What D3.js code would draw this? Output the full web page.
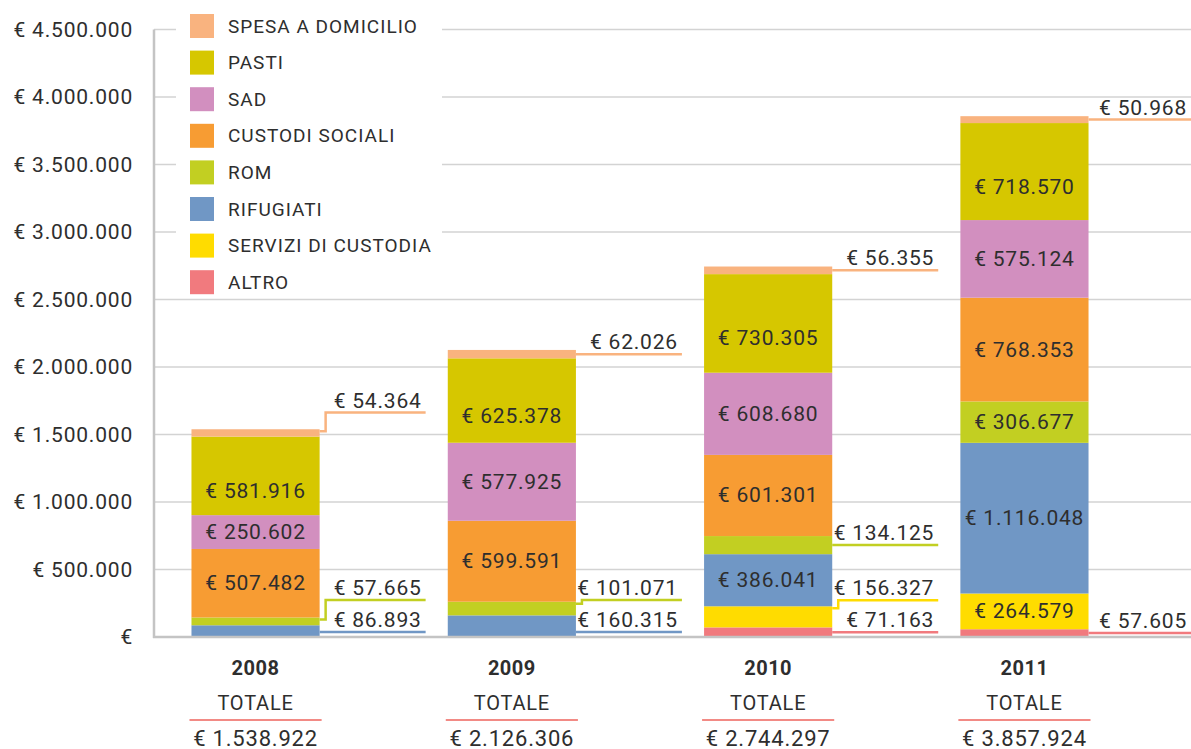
<!DOCTYPE html>
<html>
<head>
<meta charset="utf-8">
<script src="https://cdn.jsdelivr.net/npm/d3@7"></script>
<style>
html,body{margin:0;padding:0;background:#fff;}
svg{display:block;font-family:Roboto,"DejaVu Sans",sans-serif;}
</style>
</head>
<body>
<svg id="chart" width="1191" height="749"></svg>
<script>
// ---- data ----
const years = ["2008", "2009", "2010", "2011"];
const seriesKeys = ["altro", "servizi", "rifugiati", "rom", "custodi", "sad", "pasti", "spesa"];
const seriesLabels = ["ALTRO", "SERVIZI DI CUSTODIA", "RIFUGIATI", "ROM", "CUSTODI SOCIALI", "SAD", "PASTI", "SPESA A DOMICILIO"];
const seriesColors = ["#F17A7E", "#FFDC00", "#7097C5", "#C2CF22", "#F79C33", "#D28FBF", "#D6C700", "#F9B37F"];
const altro     = [0, 0, 71163, 57605];
const servizi   = [0, 0, 156327, 264579];
const rifugiati = [86893, 160315, 386041, 1116048];
const rom       = [57665, 101071, 134125, 306677];
const custodi   = [507482, 599591, 601301, 768353];
const sad       = [250602, 577925, 608680, 575124];
const pasti     = [581916, 625378, 730305, 718570];
const spesa     = [54364, 62026, 56355, 50968];
const totals    = [1538922, 2126306, 2744297, 3857924];
const yTicks    = [0, 500000, 1000000, 1500000, 2000000, 2500000, 3000000, 3500000, 4000000, 4500000];
const totalLabel = "TOTALE";

const seriesValues = {altro, servizi, rifugiati, rom, custodi, sad, pasti, spesa};
const table = years.map((yr, i) => {
  const row = {year: yr};
  seriesKeys.forEach(k => row[k] = seriesValues[k][i]);
  return row;
});

// ---- formatting ----
const itFmt = d3.formatLocale({decimal: ",", thousands: ".", grouping: [3], currency: ["€", ""]});
const fmtN = itFmt.format(",d");
const euro = v => "€ " + fmtN(v);
const tickFmt = v => v === 0 ? "€" : "€ " + fmtN(v);

// ---- layout ----
const svg = d3.select("#chart");
const axisX = 154, rightEdge = 1191;
const y = d3.scaleLinear().domain([0, 4500000]).range([637, 29.5]);
const x = d3.scaleBand().domain(years).range([127.4, 1152.6]).paddingInner(0.5).paddingOuter(0.25);
const color = d3.scaleOrdinal().domain(seriesKeys).range(seriesColors);
const textCol = "#2e2e2e";
const LS = "0.8px";

// gridlines
svg.append("g").selectAll("line").data(yTicks.filter(t => t > 0)).join("line")
  .attr("x1", axisX).attr("x2", rightEdge)
  .attr("y1", d => y(d)).attr("y2", d => y(d))
  .attr("stroke", "#d3d3d3").attr("stroke-width", 1.5);

// y axis via d3.axisLeft (labels only)
const yAxis = d3.axisLeft(y).tickValues(yTicks).tickFormat(tickFmt).tickSize(0).tickPadding(21);
const gy = svg.append("g").attr("transform", `translate(${axisX},0)`).call(yAxis);
gy.select(".domain").remove();
gy.selectAll("text").attr("fill", textCol).style("font-size", "21px")
  .style("letter-spacing", LS).style("font-family", "Roboto, sans-serif");

// stacked bars
const stack = d3.stack().keys(seriesKeys)(table);
const layers = svg.append("g").selectAll("g").data(stack).join("g").attr("fill", d => color(d.key));
layers.selectAll("rect").data(d => d.map(p => ({p, key: d.key}))).join("rect")
  .attr("x", d => x(d.p.data.year))
  .attr("width", x.bandwidth())
  .attr("y", d => y(d.p[1]))
  .attr("height", d => Math.max(0, y(d.p[0]) - y(d.p[1])));

// axis lines
svg.append("line").attr("x1", axisX).attr("x2", axisX).attr("y1", y(4500000)).attr("y2", y(0) + 1)
  .attr("stroke", "#c4c4c4").attr("stroke-width", 2.5);
svg.append("line").attr("x1", axisX - 1).attr("x2", rightEdge).attr("y1", y(0)).attr("y2", y(0))
  .attr("stroke", "#c4c4c4").attr("stroke-width", 2.5);

// labels inside bars and callouts
const inside = [], callouts = [];
stack.forEach(layer => {
  layer.forEach((p, i) => {
    const v = p[1] - p[0];
    if (v <= 0) return;
    const item = {key: layer.key, v, i, top: y(p[1]), bot: y(p[0]), year: years[i]};
    if (v > 200000 && layer.key !== "spesa" && layer.key !== "altro") inside.push(item);
    else callouts.push(item);
  });
});

svg.append("g").selectAll("text").data(inside).join("text")
  .attr("x", d => x(d.year) + x.bandwidth() / 2)
  .attr("y", d => (d.top + d.bot) / 2 + (d.key === "pasti" ? 15 : 0))
  .attr("text-anchor", "middle").attr("dominant-baseline", "central")
  .attr("fill", textCol).style("font-size", "21px").style("letter-spacing", LS)
  .text(d => euro(d.v));

// callout stacking per year
const gridYs = yTicks.map(t => y(t));
years.forEach(yr => {
  const items = callouts.filter(c => c.year === yr).sort((a, b) => b.bot - a.bot);
  let prev = null;
  items.forEach((c, idx) => {
    let ly = (c.top + c.bot) / 2;
    if (idx === 0) ly = Math.max(ly, y(0) - 5);
    if (prev !== null) ly = Math.min(ly, prev - 32);
    gridYs.forEach(g => { if (g < y(0) - 1 && Math.abs(ly - g) < 8) ly = g - 22; });
    c.lineY = ly;
    c.startY = Math.max(c.top + 2, Math.min(c.bot - 2, ly));
    prev = ly;
  });
});

const cg = svg.append("g");
callouts.forEach(c => {
  const x0 = x(c.year) + x.bandwidth();
  const x1 = Math.min(rightEdge, x0 + 106);
  let pts;
  if (Math.abs(c.startY - c.lineY) < 1) pts = [[x0, c.lineY], [x1, c.lineY]];
  else pts = [[x0, c.startY], [x0 + 6, c.startY], [x0 + 6, c.lineY], [x1, c.lineY]];
  cg.append("path").attr("d", d3.line()(pts)).attr("fill", "none")
    .attr("stroke", color(c.key)).attr("stroke-width", 2.5);
  cg.append("text").attr("x", x1 - 4).attr("y", c.lineY - 5)
    .attr("text-anchor", "end").attr("fill", textCol).style("font-size", "21px")
    .style("letter-spacing", LS)
    .text(euro(c.v));
});

// legend
const legendOrder = seriesKeys.slice().reverse();
const lg = svg.append("g");
lg.append("rect").attr("x", 176).attr("y", 4).attr("width", 266).attr("height", 292).attr("fill", "#fff");
const li = lg.selectAll("g").data(legendOrder).join("g")
  .attr("transform", (d, i) => `translate(190, ${14 + i * 36.6})`);
li.append("rect").attr("width", 24).attr("height", 24).attr("fill", d => color(d));
li.append("text").attr("x", 38).attr("y", 12).attr("dominant-baseline", "central")
  .attr("fill", textCol).style("font-size", "19px").style("letter-spacing", "1px")
  .text(d => seriesLabels[seriesKeys.indexOf(d)]);

// x labels and totals
const xg = svg.append("g").selectAll("g").data(years).join("g")
  .attr("transform", d => `translate(${x(d) + x.bandwidth() / 2},0)`);
xg.append("text").attr("y", 668).attr("text-anchor", "middle").attr("dominant-baseline", "central")
  .attr("fill", textCol).style("font-size", "20px").style("font-weight", "bold")
  .style("letter-spacing", "0.5px").text(d => d);
xg.append("text").attr("y", 703).attr("text-anchor", "middle").attr("dominant-baseline", "central")
  .attr("fill", textCol).style("font-size", "20px").style("letter-spacing", LS).text(totalLabel);
xg.append("line").attr("x1", -x.bandwidth() / 2 - 2).attr("x2", x.bandwidth() / 2 + 2)
  .attr("y1", 720).attr("y2", 720).attr("stroke", "#F28A85").attr("stroke-width", 2);
xg.append("text").attr("y", 738).attr("text-anchor", "middle").attr("dominant-baseline", "central")
  .attr("fill", textCol).style("font-size", "22px").style("letter-spacing", LS)
  .text((d, i) => euro(totals[i]));
</script>
</body>
</html>
